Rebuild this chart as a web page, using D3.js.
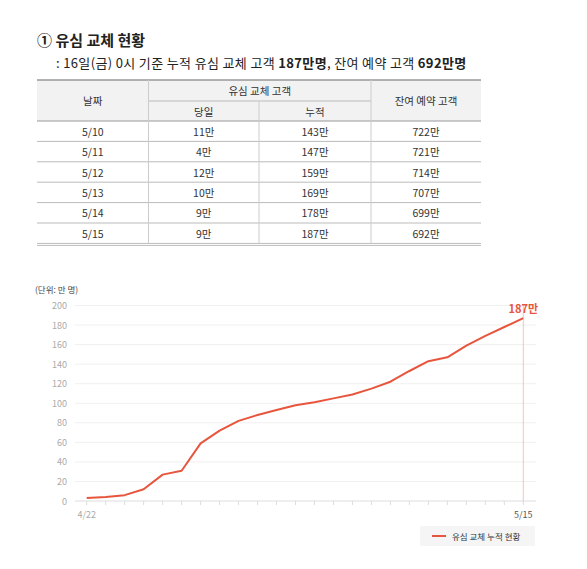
<!DOCTYPE html>
<html>
<head>
<meta charset="utf-8">
<script src="https://cdn.jsdelivr.net/npm/d3@7"></script>
<style>
  body { margin: 0; background: #fff; }
  svg { display: block; font-family: "Noto Sans CJK KR", "Noto Sans", sans-serif; }
</style>
</head>
<body>
<svg width="587" height="569"></svg>
<script>
// table data
const tableDates = ["5/10", "5/11", "5/12", "5/13", "5/14", "5/15"];
const dailySwaps = ["11만", "4만", "12만", "10만", "9만", "9만"];
const totalSwaps = ["143만", "147만", "159만", "169만", "178만", "187만"];
const remaining = ["722만", "721만", "714만", "707만", "699만", "692만"];

// chart data (만 명)
const chartDates = ["4/22", "4/23", "4/24", "4/25", "4/26", "4/27", "4/28", "4/29", "4/30",
  "5/1", "5/2", "5/3", "5/4", "5/5", "5/6", "5/7", "5/8", "5/9", "5/10", "5/11", "5/12", "5/13", "5/14", "5/15"];
const chartValues = [3, 4, 6, 12, 27, 31, 59, 72, 82, 88, 93, 98, 101, 105, 109, 115, 122, 133, 143, 147, 159, 169, 178, 187];
const yTicks = [0, 20, 40, 60, 80, 100, 120, 140, 160, 180, 200];
const shownDates = ["4/22", "5/15"];

const svg = d3.select("svg");
const red = "#e8553d";

// title
svg.append("text").attr("x", 37).attr("y", 46)
  .attr("font-size", 15).attr("font-weight", 700).attr("fill", "#222")
  .text("① 유심 교체 현황");

const sub = svg.append("text").attr("x", 56).attr("y", 68)
  .attr("font-size", 13).attr("letter-spacing", 0.35).attr("fill", "#222");
sub.append("tspan").text(": 16일(금) 0시 기준 누적 유심 교체 고객 ");
sub.append("tspan").attr("font-weight", 700).text("187만명");
sub.append("tspan").text(", 잔여 예약 고객 ");
sub.append("tspan").attr("font-weight", 700).text("692만명");

// table
const cols = [37, 148.5, 259, 371, 481];
const tTop = 80, h1 = 101, h2 = 121, rowH = 20.4;
const tBottom = h2 + rowH * tableDates.length;
const table = svg.append("g");

table.append("rect").attr("x", cols[0]).attr("y", tTop)
  .attr("width", cols[4] - cols[0]).attr("height", h2 - tTop).attr("fill", "#f2f2f2");

// borders
table.append("line").attr("x1", cols[0]).attr("x2", cols[4]).attr("y1", tTop).attr("y2", tTop)
  .attr("stroke", "#999").attr("stroke-width", 1.6);
table.append("line").attr("x1", cols[1]).attr("x2", cols[3]).attr("y1", h1).attr("y2", h1)
  .attr("stroke", "#bbb");
d3.range(tableDates.length + 1).forEach(i => {
  const y = h2 + rowH * i;
  table.append("line").attr("x1", cols[0]).attr("x2", cols[4]).attr("y1", y).attr("y2", y)
    .attr("stroke", i === 0 ? "#999" : "#bbb");
});
table.append("line").attr("x1", cols[0]).attr("x2", cols[4]).attr("y1", tBottom + 2).attr("y2", tBottom + 2)
  .attr("stroke", "#bbb");
[cols[1], cols[3]].forEach(x => {
  table.append("line").attr("x1", x).attr("x2", x).attr("y1", tTop).attr("y2", tBottom)
    .attr("stroke", "#ccc");
});
table.append("line").attr("x1", cols[2]).attr("x2", cols[2]).attr("y1", h1).attr("y2", tBottom)
  .attr("stroke", "#ccc");

const cell = (x, y, t) => table.append("text").attr("x", x).attr("y", y)
  .attr("text-anchor", "middle").attr("dominant-baseline", "central")
  .attr("font-size", 10.5).attr("fill", "#333").text(t);

cell((cols[0] + cols[1]) / 2, (tTop + h2) / 2, "날짜");
cell((cols[1] + cols[3]) / 2, (tTop + h1) / 2, "유심 교체 고객");
cell((cols[1] + cols[2]) / 2, (h1 + h2) / 2, "당일");
cell((cols[2] + cols[3]) / 2, (h1 + h2) / 2, "누적");
cell((cols[3] + cols[4]) / 2, (tTop + h2) / 2, "잔여 예약 고객");

tableDates.forEach((d, i) => {
  const y = h2 + rowH * i + rowH / 2;
  cell((cols[0] + cols[1]) / 2, y, d);
  cell((cols[1] + cols[2]) / 2, y, dailySwaps[i]);
  cell((cols[2] + cols[3]) / 2, y, totalSwaps[i]);
  cell((cols[3] + cols[4]) / 2, y, remaining[i]);
});

// chart
const x = d3.scalePoint().domain(chartDates).range([86.7, 523.3]);
const y = d3.scaleLinear().domain([0, 200]).range([501, 305.5]);
const chart = svg.append("g");

chart.selectAll(".grid").data(yTicks.filter(d => d > 0)).enter().append("line")
  .attr("x1", 75).attr("x2", 536).attr("y1", d => y(d)).attr("y2", d => y(d))
  .attr("stroke", "#f0f0f0");

chart.selectAll(".ylab").data(yTicks).enter().append("text")
  .attr("x", 67).attr("y", d => y(d)).attr("dominant-baseline", "central")
  .attr("text-anchor", "end").attr("font-size", 9).attr("fill", "#aaa")
  .text(d => d);

chart.append("text").attr("x", 35).attr("y", 293)
  .attr("font-size", 8.5).attr("fill", "#444").text("(단위: 만 명)");

// baseline and ticks
chart.append("line").attr("x1", 75).attr("x2", 536).attr("y1", y(0)).attr("y2", y(0))
  .attr("stroke", "#ddd");
chart.selectAll(".tick").data(chartDates).enter().append("line")
  .attr("x1", d => x(d)).attr("x2", d => x(d)).attr("y1", y(0)).attr("y2", y(0) + 4)
  .attr("stroke", "#ddd");
chart.selectAll(".xlab").data(shownDates).enter().append("text")
  .attr("x", d => x(d)).attr("y", 518).attr("text-anchor", "middle")
  .attr("font-size", 9).attr("fill", d => d === "5/15" ? "#555" : "#aaa")
  .text(d => d);

// marker for last day
const last = chartDates[chartDates.length - 1];
chart.append("line").attr("x1", x(last)).attr("x2", x(last)).attr("y1", y(200)).attr("y2", y(0))
  .attr("stroke", "#f5b5aa").attr("stroke-width", 0.8);

const line = d3.line().x((d, i) => x(chartDates[i])).y(d => y(d));
chart.append("path").datum(chartValues).attr("d", line)
  .attr("fill", "none").attr("stroke", red).attr("stroke-width", 2)
  .attr("stroke-linejoin", "round");

chart.append("text").attr("x", x(last)).attr("y", 313).attr("text-anchor", "middle")
  .attr("font-size", 11).attr("font-weight", 700).attr("fill", red)
  .text(chartValues[chartValues.length - 1] + "만");

// legend
const lg = svg.append("g");
lg.append("rect").attr("x", 420).attr("y", 526).attr("width", 115).attr("height", 20).attr("fill", "#f5f5f5");
lg.append("line").attr("x1", 432).attr("x2", 446).attr("y1", 536).attr("y2", 536)
  .attr("stroke", red).attr("stroke-width", 2);
lg.append("text").attr("x", 452).attr("y", 536).attr("dominant-baseline", "central")
  .attr("font-size", 8.5).attr("fill", "#333").text("유심 교체 누적 현황");
</script>
</body>
</html>
